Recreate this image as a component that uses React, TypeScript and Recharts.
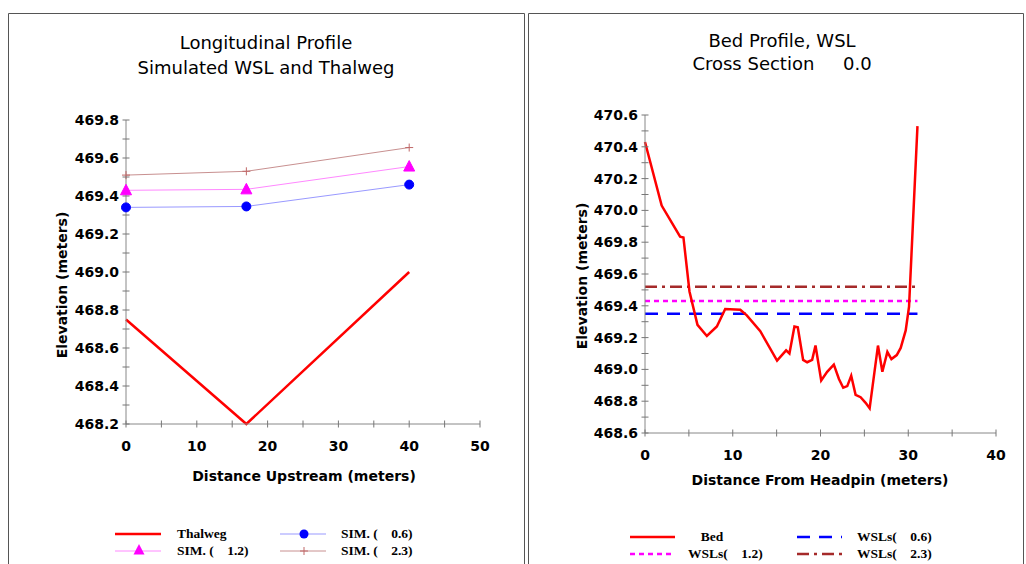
import React from 'react';
import { LineChart, Line, XAxis, YAxis } from 'recharts';

// longitudinal profile (left panel)
const stations = [0, 17, 40];
const thalweg = [468.75, 468.2, 469.0];
const sim06 = [469.34, 469.345, 469.46];
const sim12 = [469.43, 469.435, 469.555];
const sim23 = [469.51, 469.53, 469.655];

const leftYTicks = [468.2, 468.3, 468.4, 468.5, 468.6, 468.7, 468.8, 468.9, 469.0, 469.1, 469.2, 469.3, 469.4, 469.5, 469.6, 469.7, 469.8];
const leftYLabels = [468.2, 468.4, 468.6, 468.8, 469.0, 469.2, 469.4, 469.6, 469.8];
const leftXTicks = [0, 5, 10, 15, 20, 25, 30, 35, 40, 45, 50];
const leftXLabels = [0, 10, 20, 30, 40, 50];

// bed profile, cross section 0.0 (right panel)
const bedX = [0, 1.9, 4.0, 4.38, 5.07, 5.98, 7.05, 8.19, 9.14, 10.86, 11.6, 13.14, 15.05, 16.08, 16.46, 17.03, 17.41, 18.02, 18.48, 19.05, 19.43, 20.08, 20.76, 21.52, 22.1, 22.59, 23.05, 23.5, 24.0, 24.57, 25.14, 25.6, 26.55, 27.05, 27.62, 28.08, 28.69, 29.14, 29.71, 30.09, 31.05];
const bedElev = [470.43, 470.03, 469.835, 469.83, 469.49, 469.28, 469.21, 469.27, 469.38, 469.375, 469.34, 469.24, 469.055, 469.12, 469.1, 469.27, 469.265, 469.06, 469.045, 469.06, 469.15, 468.93, 468.985, 469.03, 468.94, 468.885, 468.895, 468.96, 468.84, 468.825, 468.79, 468.755, 469.15, 468.985, 469.11, 469.065, 469.09, 469.135, 469.245, 469.395, 470.53];
const wslX = [0, 31.05];
const wsl06 = [469.35, 469.35];
const wsl12 = [469.43, 469.43];
const wsl23 = [469.52, 469.52];

const rightYTicks = [468.6, 468.7, 468.8, 468.9, 469.0, 469.1, 469.2, 469.3, 469.4, 469.5, 469.6, 469.7, 469.8, 469.9, 470.0, 470.1, 470.2, 470.3, 470.4, 470.5, 470.6];
const rightYLabels = [468.6, 468.8, 469.0, 469.2, 469.4, 469.6, 469.8, 470.0, 470.2, 470.4, 470.6];
const rightXTicks = [0, 5, 10, 15, 20, 25, 30, 35, 40];
const rightXLabels = [0, 10, 20, 30, 40];

const profileData = stations.map((x, i) => ({
  x, thalweg: thalweg[i], sim06: sim06[i], sim12: sim12[i], sim23: sim23[i],
}));
const bedData = bedX.map((x, i) => ({ x, bed: bedElev[i] }));
const wslData = (vals: number[]) => wslX.map((x, i) => ({ x, wsl: vals[i] }));

const SANS = 'DejaVu Sans';
const SERIF = 'Liberation Serif';
const TICK = '#777';

const has = (arr: number[], v: number) => arr.some(a => Math.abs(a - v) < 1e-6);

const YTick = (props: any) => {
  const { x, y, payload, labels } = props;
  return (
    <g>
      <line x1={x - 3.5} x2={x + 3.5} y1={y} y2={y} stroke={TICK} />
      {has(labels, payload.value) && (
        <text x={x - 7} y={y + 5} textAnchor="end" fontFamily={SANS} fontWeight="bold" fontSize={14} fill="#000">
          {payload.value.toFixed(1)}
        </text>
      )}
    </g>
  );
};

const XTick = (props: any) => {
  const { x, y, payload, labels } = props;
  return (
    <g>
      <line x1={x} x2={x} y1={y - 3.5} y2={y + 3.5} stroke={TICK} />
      {has(labels, payload.value) && (
        <text x={x} y={y + 27} textAnchor="middle" fontFamily={SANS} fontWeight="bold" fontSize={14} fill="#000">
          {payload.value}
        </text>
      )}
    </g>
  );
};

const triangle = (cx: number, cy: number, s: number) =>
  `M${cx},${cy - s * 0.6} L${cx + s * 0.55},${cy + s * 0.45} L${cx - s * 0.55},${cy + s * 0.45} Z`;

const TriangleDot = (props: any) => {
  const { cx, cy, index } = props;
  return <path key={`tri-${index}`} d={triangle(cx, cy, 10)} fill="#ff00ff" stroke="#ff00ff" />;
};

const PlusDot = (props: any) => {
  const { cx, cy, index } = props;
  return (
    <g key={`plus-${index}`} stroke="#c06868" strokeWidth={1}>
      <line x1={cx - 4} x2={cx + 4} y1={cy} y2={cy} />
      <line x1={cx} x2={cx} y1={cy - 4} y2={cy + 4} />
    </g>
  );
};

const axisProps = {
  axisLine: { stroke: '#888' },
  tickLine: false,
  tickSize: 0,
  tickMargin: 0,
  interval: 0 as const,
};

function LeftChart() {
  return (
    <LineChart
      width={524}
      height={564}
      data={profileData}
      margin={{ top: 120, right: 44, bottom: 110, left: 66 }}
    >
      <XAxis
        {...axisProps}
        type="number"
        dataKey="x"
        domain={[0, 50]}
        ticks={leftXTicks}
        height={30}
        tick={(p: any) => <XTick {...p} labels={leftXLabels} />}
      />
      <YAxis
        {...axisProps}
        type="number"
        domain={[468.2, 469.8]}
        ticks={leftYTicks}
        width={60}
        tick={(p: any) => <YTick {...p} labels={leftYLabels} />}
      />
      <Line dataKey="sim23" stroke="#c89090" strokeWidth={1} dot={PlusDot} isAnimationActive={false} />
      <Line dataKey="sim12" stroke="#ff88ff" strokeWidth={1} dot={TriangleDot} isAnimationActive={false} />
      <Line dataKey="sim06" stroke="#9999ff" strokeWidth={1} dot={{ r: 4.5, fill: '#0000ff', stroke: '#0000ff', strokeWidth: 1 }} isAnimationActive={false} />
      <Line dataKey="thalweg" stroke="#ff0000" strokeWidth={2.5} dot={false} isAnimationActive={false} />
    </LineChart>
  );
}

function RightChart() {
  return (
    <LineChart
      width={495}
      height={564}
      margin={{ top: 115, right: 27, bottom: 101, left: 57 }}
    >
      <XAxis
        {...axisProps}
        type="number"
        dataKey="x"
        domain={[0, 40]}
        ticks={rightXTicks}
        height={30}
        tick={(p: any) => <XTick {...p} labels={rightXLabels} />}
      />
      <YAxis
        {...axisProps}
        type="number"
        domain={[468.6, 470.6]}
        ticks={rightYTicks}
        width={60}
        tick={(p: any) => <YTick {...p} labels={rightYLabels} />}
      />
      <Line data={wslData(wsl23)} dataKey="wsl" stroke="#a52a2a" strokeWidth={2.5} strokeDasharray="12 5 3 5" dot={false} isAnimationActive={false} />
      <Line data={wslData(wsl12)} dataKey="wsl" stroke="#ff00ff" strokeWidth={2.5} strokeDasharray="5 4" dot={false} isAnimationActive={false} />
      <Line data={wslData(wsl06)} dataKey="wsl" stroke="#0000ff" strokeWidth={2.5} strokeDasharray="13 9" dot={false} isAnimationActive={false} />
      <Line data={bedData} dataKey="bed" stroke="#ff0000" strokeWidth={2.5} dot={false} isAnimationActive={false} />
    </LineChart>
  );
}

const legendText = { fontFamily: SERIF, fontWeight: 'bold' as const, fontSize: 13.5, fill: '#000' };

function Overlay() {
  return (
    <svg width={1026} height={564} style={{ position: 'absolute', left: 0, top: 0, pointerEvents: 'none' }}>
      {/* panel frames */}
      <path d="M8.5,600 V13.5 H524.5 V600" fill="none" stroke="#555" />
      <path d="M528.5,600 V13.5 H1023.5 V600" fill="none" stroke="#555" />

      {/* titles */}
      <g fontFamily={SANS} fontSize={18} fill="#000" textAnchor="middle">
        <text x={266} y={49}>Longitudinal Profile</text>
        <text x={266} y={74}>Simulated WSL and Thalweg</text>
        <text x={782} y={47}>Bed Profile, WSL</text>
        <text x={782} y={70} style={{ whiteSpace: 'pre' }}>{'Cross Section     0.0'}</text>
      </g>

      {/* axis titles */}
      <g fontFamily={SANS} fontSize={14} fontWeight="bold" fill="#000" textAnchor="middle">
        <text x={304} y={481}>Distance Upstream (meters)</text>
        <text x={820} y={485}>Distance From Headpin (meters)</text>
        <text transform="translate(67,285) rotate(-90)">Elevation (meters)</text>
        <text transform="translate(587,276) rotate(-90)">Elevation (meters)</text>
      </g>

      {/* left legend */}
      <line x1={115} x2={161} y1={534} y2={534} stroke="#ff0000" strokeWidth={2.5} />
      <text x={177} y={538} {...legendText}>Thalweg</text>
      <line x1={280} x2={326} y1={534} y2={534} stroke="#9999ff" strokeWidth={1} />
      <circle cx={304} cy={534} r={4.5} fill="#0000ff" />
      <text x={341} y={538} {...legendText} style={{ whiteSpace: 'pre' }}>{'SIM. (    0.6)'}</text>
      <line x1={115} x2={161} y1={551} y2={551} stroke="#ff88ff" strokeWidth={1} />
      <path d={triangle(139, 550, 10)} fill="#ff00ff" />
      <text x={177} y={555} {...legendText} style={{ whiteSpace: 'pre' }}>{'SIM. (    1.2)'}</text>
      <line x1={280} x2={326} y1={551} y2={551} stroke="#c89090" strokeWidth={1} />
      <PlusDot cx={304} cy={551} index={99} />
      <text x={341} y={555} {...legendText} style={{ whiteSpace: 'pre' }}>{'SIM. (    2.3)'}</text>

      {/* right legend */}
      <line x1={630} x2={675} y1={537} y2={537} stroke="#ff0000" strokeWidth={2.5} />
      <text x={712} y={541} textAnchor="middle" {...legendText}>Bed</text>
      <line x1={797} x2={842} y1={537} y2={537} stroke="#0000ff" strokeWidth={2.5} strokeDasharray="13 9" />
      <text x={857} y={541} {...legendText} style={{ whiteSpace: 'pre' }}>{'WSLs(    0.6)'}</text>
      <line x1={630} x2={675} y1={554} y2={554} stroke="#ff00ff" strokeWidth={2.5} strokeDasharray="5 4" />
      <text x={688} y={558} {...legendText} style={{ whiteSpace: 'pre' }}>{'WSLs(    1.2)'}</text>
      <line x1={797} x2={842} y1={554} y2={554} stroke="#a52a2a" strokeWidth={2.5} strokeDasharray="12 5 3 5" />
      <text x={857} y={558} {...legendText} style={{ whiteSpace: 'pre' }}>{'WSLs(    2.3)'}</text>
    </svg>
  );
}

export default function App() {
  return (
    <div style={{ position: 'absolute', left: 0, top: 0, width: 1026, height: 564, background: '#fff', overflow: 'hidden' }}>
      <div style={{ position: 'absolute', left: 0, top: 0 }}>
        <LeftChart />
      </div>
      <div style={{ position: 'absolute', left: 528, top: 0 }}>
        <RightChart />
      </div>
      <Overlay />
    </div>
  );
}
